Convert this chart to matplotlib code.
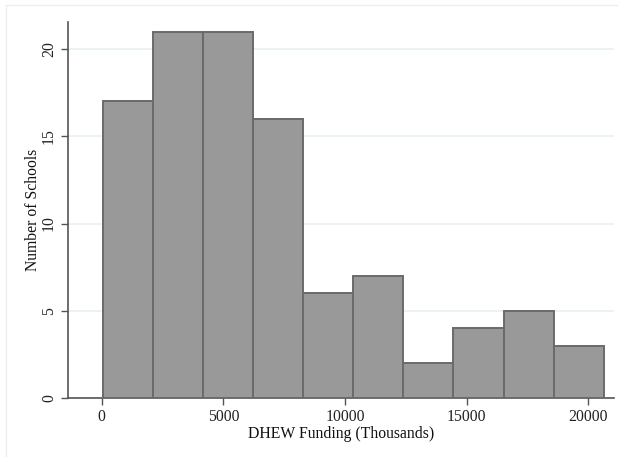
import matplotlib.pyplot as plt
import numpy as np
from matplotlib.patches import Rectangle

# histogram bins (DHEW funding, thousands) and counts
bin_start = 62
bin_width = 2056
counts = [17, 21, 21, 16, 6, 7, 2, 4, 5, 3]
y_ticks = [0, 5, 10, 15, 20]
x_ticks = [0, 5000, 10000, 15000, 20000]

plt.rcParams['font.family'] = ['Liberation Serif', 'DejaVu Serif']

fig = plt.figure(figsize=(6.18, 4.57), dpi=100)
fig.patches.append(Rectangle((6 / 618, -0.1), 1.2, 1.1 - 5 / 457, transform=fig.transFigure,
                             facecolor='none', edgecolor='#eeeeee', linewidth=1))
ax = fig.add_axes([68 / 618, 1 - 398 / 457, (614 - 68) / 618, (398 - 22) / 457])

lefts = bin_start + bin_width * np.arange(len(counts))
ax.bar(lefts, counts, width=bin_width, align='edge', color='#999999',
       edgecolor='#6a6a6a', linewidth=1.4, zorder=3)

ax.set_xlim(-1385, 21050)
ax.set_ylim(0, 21.55)
ax.set_xticks(x_ticks)
ax.set_yticks(y_ticks)
ax.set_yticklabels([str(v) for v in y_ticks], rotation=90, va='center')
ax.tick_params(axis='both', length=5, width=1, color='#555555', labelsize=11.3, labelcolor='#222222')
ax.tick_params(axis='x', pad=3)
ax.tick_params(axis='y', pad=3)

ax.grid(axis='y', color='#e6f0f0', linewidth=1.2, zorder=0)
for s in ['top', 'right']:
    ax.spines[s].set_visible(False)
for s in ['left', 'bottom']:
    ax.spines[s].set_color('#555555')
    ax.spines[s].set_linewidth(1.2)

ax.set_xlabel('DHEW Funding (Thousands)', fontsize=11.3, labelpad=1, color='#111111')
ax.set_ylabel('Number of Schools', fontsize=11.3, color='#111111', va='center')
ax.yaxis.set_label_coords(-0.064, 0.5)

fig.savefig('out.png', dpi=100)
